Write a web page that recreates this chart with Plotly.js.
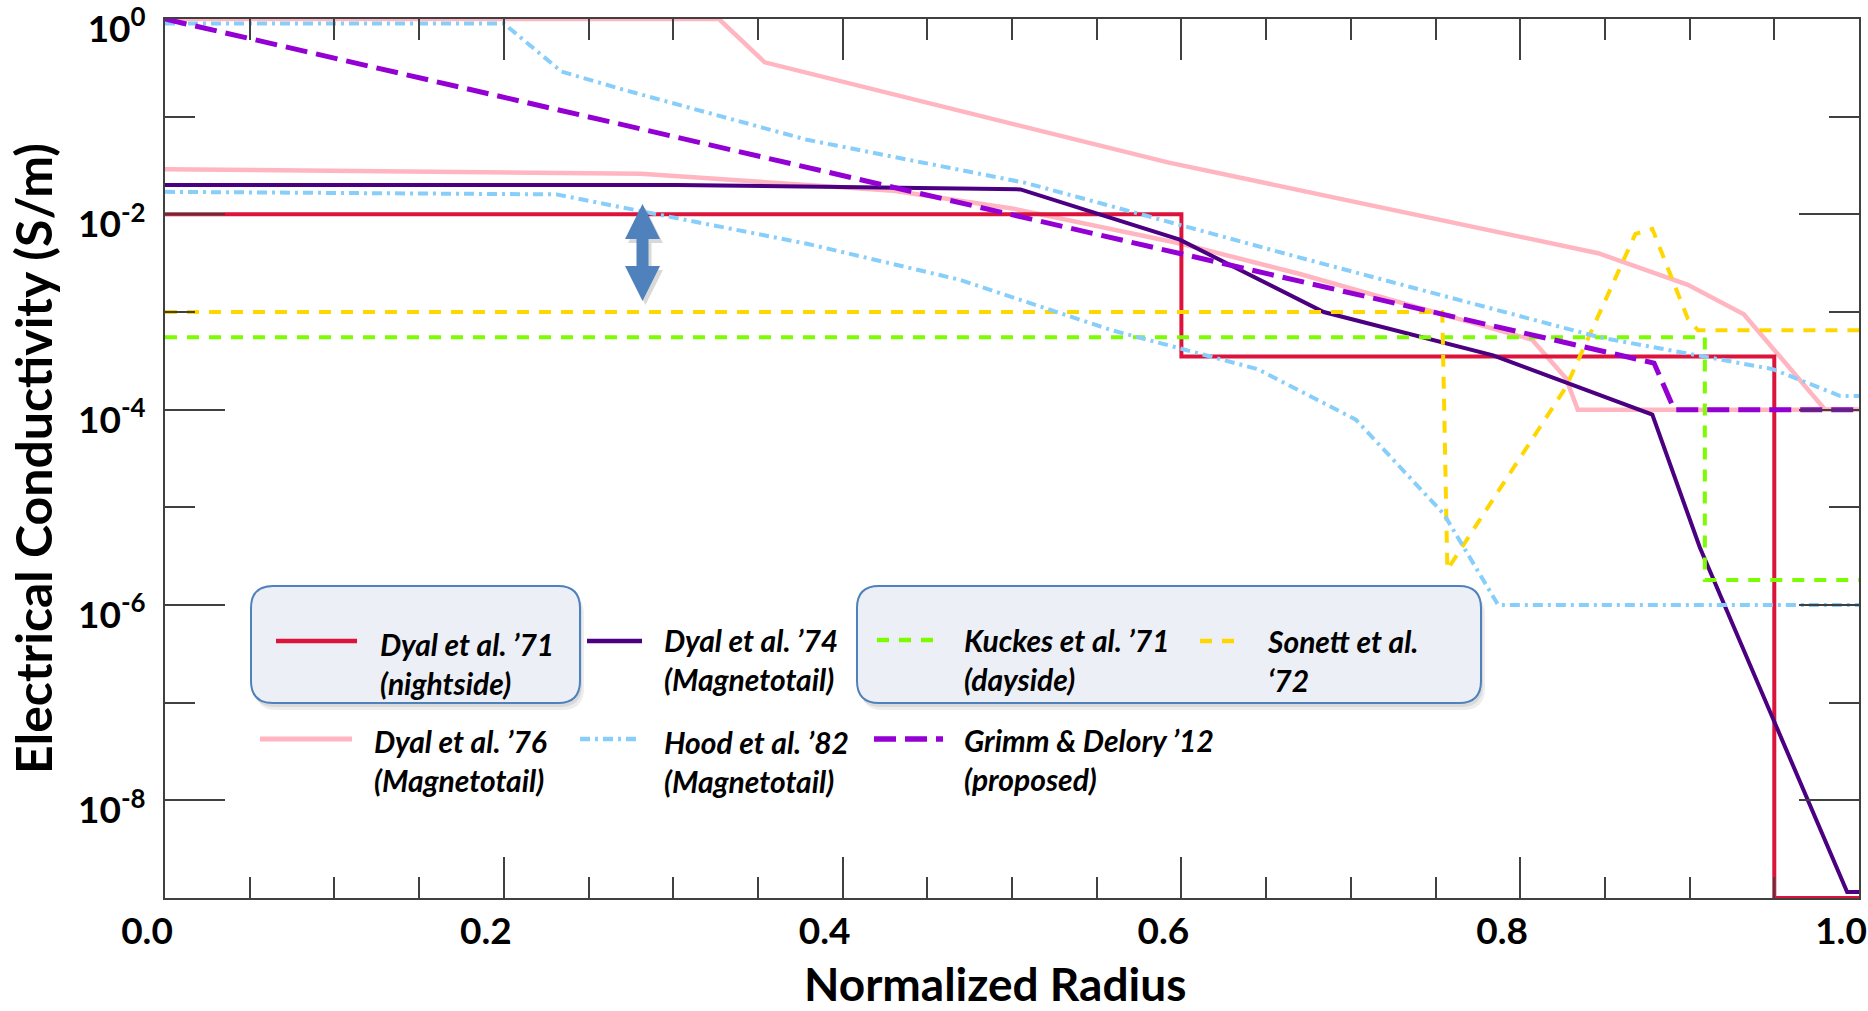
<!DOCTYPE html>
<html>
<head>
<meta charset="utf-8">
<script src="https://cdn.plot.ly/plotly-3.0.1.min.js"></script>
<style>
  html, body { margin: 0; padding: 0; background: #ffffff; }
  #chart { width: 1868px; height: 1011px; }
</style>
</head>
<body>
<div id="chart"></div>
<script>
// ---------------- Data ----------------
// Normalized radius (x) and electrical conductivity in S/m (y)
const radius71 = [0, 0.600, 0.600, 0.950, 0.950, 1.0];
const sigma71  = [1.0e-2, 1.0e-2, 3.5e-4, 3.5e-4, 1.0e-9, 1.0e-9];

const radius74 = [0, 0.302, 0.505, 0.599, 0.684, 0.784, 0.878, 0.906, 0.993, 1.0];
const sigma74  = [2.0e-2, 2.0e-2, 1.8e-2, 5.5e-3, 1.0e-3, 3.6e-4, 8.9e-5, 3.9e-6, 1.15e-9, 1.15e-9];

const radius76Upper = [0, 0.327, 0.354, 0.592, 0.846, 0.899, 0.932, 0.980, 1.0];
const sigma76Upper  = [1.0, 1.0, 0.36, 0.034, 4.0e-3, 1.9e-3, 9.5e-4, 1.0e-4, 1.0e-4];
const radius76Lower = [0, 0.281, 0.430, 0.500, 0.600, 0.670, 0.807, 0.827, 0.834, 1.0];
const sigma76Lower  = [2.9e-2, 2.6e-2, 1.74e-2, 1.15e-2, 5.0e-3, 2.45e-3, 5.2e-4, 2.1e-4, 1.0e-4, 1.0e-4];

const radiusKuckes = [0, 0.909, 0.909, 1.0];
const sigmaKuckes  = [5.5e-4, 5.5e-4, 1.8e-6, 1.8e-6];

const radiusSonett = [0, 0.754, 0.757, 0.827, 0.868, 0.878, 0.899, 0.905, 1.0];
const sigmaSonett  = [1.0e-3, 1.0e-3, 2.3e-6, 1.7e-4, 6.3e-3, 7.1e-3, 8.5e-4, 6.5e-4, 6.5e-4];

const radiusHoodUpper = [0, 0.200, 0.234, 0.270, 0.379, 0.508, 0.555, 0.670, 0.847, 0.949, 0.989, 1.0];
const sigmaHoodUpper  = [0.9, 0.9, 0.29, 0.19, 0.058, 0.021, 0.0126, 3.6e-3, 5.5e-4, 2.6e-4, 1.38e-4, 1.38e-4];
const radiusHoodLower = [0, 0.231, 0.288, 0.379, 0.469, 0.559, 0.645, 0.703, 0.755, 0.787, 1.0];
const sigmaHoodLower  = [1.7e-2, 1.6e-2, 1.02e-2, 5.0e-3, 2.14e-3, 6.5e-4, 2.6e-4, 7.9e-5, 8.5e-6, 1.0e-6, 1.0e-6];

const radiusGrimm = [0, 0.879, 0.891, 1.0];
const sigmaGrimm  = [1.0, 3.0e-4, 1.0e-4, 1.0e-4];

// Tick labels
const xTickVals = [0, 0.2, 0.4, 0.6, 0.8, 1.0];
const xTickText = ['0.0', '0.2', '0.4', '0.6', '0.8', '1.0'];
const yTickVals = [1, 1e-2, 1e-4, 1e-6, 1e-8];
const yTickText = ['10<sup>0</sup>', '10<sup>-2</sup>', '10<sup>-4</sup>', '10<sup>-6</sup>', '10<sup>-8</sup>'];
const yMinorVals = [1e-1, 1e-3, 1e-5, 1e-7];

// Axis titles
const xTitle = 'Normalized Radius';
const yTitle = 'Electrical Conductivity (S/m)';

// Legend labels
const legendLabels = [
  'Dyal et al. ’71<br>(nightside)',
  'Dyal et al. ’74<br>(Magnetotail)',
  'Kuckes et al. ’71<br>(dayside)',
  'Sonett et al.<br>‘72',
  'Dyal et al. ’76<br>(Magnetotail)',
  'Hood et al. ’82<br>(Magnetotail)',
  'Grimm & Delory ’12<br>(proposed)'
];

// ---------------- Styles ----------------
const C71 = '#DC143C', C74 = '#4B0082', C76 = '#FFB6C1', CK = '#7CFC00',
      CS = '#FFD700', CH = '#87CEFA', CG = '#9400D3';
const DASH_K = '12px,10px', DASH_S = '12px,10px', DASH_H = '10px,5px,3px,5px', DASH_G = '22px,9px';

const styles = [
  {color: C71, width: 4, dash: 'solid'},
  {color: C74, width: 4, dash: 'solid'},
  {color: CK, width: 4, dash: DASH_K},
  {color: CS, width: 4, dash: DASH_S},
  {color: C76, width: 4.5, dash: 'solid'},
  {color: CH, width: 4, dash: DASH_H},
  {color: CG, width: 5, dash: DASH_G}
];

function tr(x, y, st) {
  return {x: x, y: y, type: 'scatter', mode: 'lines', showlegend: false,
          hoverinfo: 'skip', line: {color: st.color, width: st.width, dash: st.dash}};
}

const traces = [
  tr(radius76Upper, sigma76Upper, styles[4]),
  tr(radius76Lower, sigma76Lower, styles[4]),
  tr(radius71, sigma71, styles[0]),
  tr(radius74, sigma74, styles[1]),
  tr(radiusKuckes, sigmaKuckes, styles[2]),
  tr(radiusSonett, sigmaSonett, styles[3]),
  tr(radiusHoodUpper, sigmaHoodUpper, styles[5]),
  tr(radiusHoodLower, sigmaHoodLower, styles[5]),
  tr(radiusGrimm, sigmaGrimm, styles[6])
];

// ---------------- Layout helpers (pixel -> paper) ----------------
const W = 1868, H = 1011;
const ML = 165, MR = 9, MT = 19, MB = 113;
const PW = W - ML - MR, PH = H - MT - MB;
const px = v => (v - ML) / PW;
const py = v => (H - MB - v) / PH;

function roundRectPath(x0, x1, y0, y1, r) {
  const P = (a, b) => px(a).toFixed(5) + ',' + py(b).toFixed(5);
  return 'M' + P(x0 + r, y0) + ' L' + P(x1 - r, y0) + ' Q' + P(x1, y0) + ' ' + P(x1, y0 + r) +
         ' L' + P(x1, y1 - r) + ' Q' + P(x1, y1) + ' ' + P(x1 - r, y1) +
         ' L' + P(x0 + r, y1) + ' Q' + P(x0, y1) + ' ' + P(x0, y1 - r) +
         ' L' + P(x0, y0 + r) + ' Q' + P(x0, y0) + ' ' + P(x0 + r, y0) + ' Z';
}

function arrowPath(cx, top, bot, headH, headHalf, shaftHalf, dx, dy) {
  const pts = [
    [cx, top], [cx + headHalf, top + headH], [cx + shaftHalf, top + headH],
    [cx + shaftHalf, bot - headH], [cx + headHalf, bot - headH], [cx, bot],
    [cx - headHalf, bot - headH], [cx - shaftHalf, bot - headH],
    [cx - shaftHalf, top + headH], [cx - headHalf, top + headH]
  ];
  return 'M' + pts.map(p => px(p[0] + dx).toFixed(5) + ',' + py(p[1] + dy).toFixed(5)).join(' L') + ' Z';
}

const shapes = [];
// legend boxes (shadow + box)
const boxes = [[251, 580, 586, 703], [857, 1481, 586, 703]];
boxes.forEach(b => {
  shapes.push({type: 'path', xref: 'paper', yref: 'paper', path: roundRectPath(b[0] + 4, b[1] + 4, b[2] + 7, b[3] + 7, 22),
               fillcolor: 'rgba(0,0,0,0.07)', line: {width: 0}});
  shapes.push({type: 'path', xref: 'paper', yref: 'paper', path: roundRectPath(b[0] + 2, b[1] + 2, b[2] + 4, b[3] + 4, 22),
               fillcolor: 'rgba(0,0,0,0.08)', line: {width: 0}});
  shapes.push({type: 'path', xref: 'paper', yref: 'paper', path: roundRectPath(b[0], b[1], b[2], b[3], 22),
               fillcolor: '#ECF0F6', line: {color: '#4F81BD', width: 2}});
});
// legend sample lines
const samplePos = [[276, 357, 641], [587, 642, 641], [877, 937, 640], [1200, 1238, 641],
                   [260, 352, 739], [580, 640, 739], [874, 943, 739]];
samplePos.forEach((s, i) => {
  shapes.push({type: 'line', xref: 'paper', yref: 'paper', x0: px(s[0]), x1: px(s[1]), y0: py(s[2]), y1: py(s[2]),
               line: {color: styles[i].color, width: styles[i].width + 0.5, dash: styles[i].dash}});
});
// double-headed arrow (annotation graphic) with soft shadow
shapes.push({type: 'path', xref: 'paper', yref: 'paper', path: arrowPath(642.5, 204, 301, 35, 17.5, 6, 3, 4),
             fillcolor: 'rgba(0,0,0,0.15)', line: {width: 0}});
shapes.push({type: 'path', xref: 'paper', yref: 'paper', path: arrowPath(642.5, 204, 301, 35, 17.5, 6, 0, 0),
             fillcolor: '#4F81BD', line: {width: 0}});

const FAMILY = 'Lato, "Open Sans", sans-serif';
const textPos = [[378, 663], [662, 659], [962, 659], [1265, 660], [372, 760], [662, 761], [962, 759]];
const annotations = legendLabels.map((t, i) => ({
  xref: 'paper', yref: 'paper', x: px(textPos[i][0]), y: py(textPos[i][1]),
  xanchor: 'left', yanchor: 'middle', align: 'left', showarrow: false, text: t,
  font: {family: FAMILY, size: 30, color: '#000000', weight: 'bold', style: 'italic'}
}));

const axisFont = {family: FAMILY, size: 37, color: '#000000', weight: 'bold'};
const titleFont = {family: FAMILY, size: 50, color: '#000000', weight: 'bold'};

// x-axis title, placed where the reference shows it (slightly left of centre)
annotations.push({
  xref: 'paper', yref: 'paper', x: px(995), y: py(983), xanchor: 'center', yanchor: 'middle',
  showarrow: false, borderpad: 0, text: xTitle,
  font: {family: FAMILY, size: 46, color: '#000000', weight: 'bold'}
});

const layout = {
  width: W, height: H,
  margin: {l: ML, r: MR, t: MT, b: MB, pad: 0},
  paper_bgcolor: '#ffffff', plot_bgcolor: '#ffffff',
  showlegend: false,
  xaxis: {
    range: [0, 1], showgrid: false, zeroline: false,
    showline: true, linecolor: '#404040', linewidth: 2, mirror: 'ticks',
    ticks: 'inside', ticklen: 41, tickwidth: 2, tickcolor: '#404040',
    tickmode: 'array', tickvals: xTickVals, ticktext: xTickText,
    tickfont: axisFont, ticklabelstandoff: 0, ticklabelshift: -18, ticklabeloverflow: 'allow',
    minor: {ticks: 'inside', dtick: 0.05, tick0: 0, ticklen: 21, tickwidth: 2, tickcolor: '#404040', showgrid: false}
  },
  yaxis: {
    type: 'log', range: [-9, 0], showgrid: false, zeroline: false,
    showline: true, linecolor: '#404040', linewidth: 2, mirror: 'ticks',
    ticks: 'inside', ticklen: 60, tickwidth: 2, tickcolor: '#404040',
    tickmode: 'array', tickvals: yTickVals, ticktext: yTickText,
    tickfont: axisFont, ticklabelstandoff: 10, ticklabelshift: 10, ticklabeloverflow: 'allow',
    minor: {ticks: 'inside', tickmode: 'array', tickvals: yMinorVals, ticklen: 30, tickwidth: 2, tickcolor: '#404040', showgrid: false},
    title: {text: yTitle, font: titleFont, standoff: 9}
  },
  shapes: shapes,
  annotations: annotations
};

Plotly.newPlot('chart', traces, layout, {displayModeBar: false, responsive: false});
</script>
</body>
</html>
